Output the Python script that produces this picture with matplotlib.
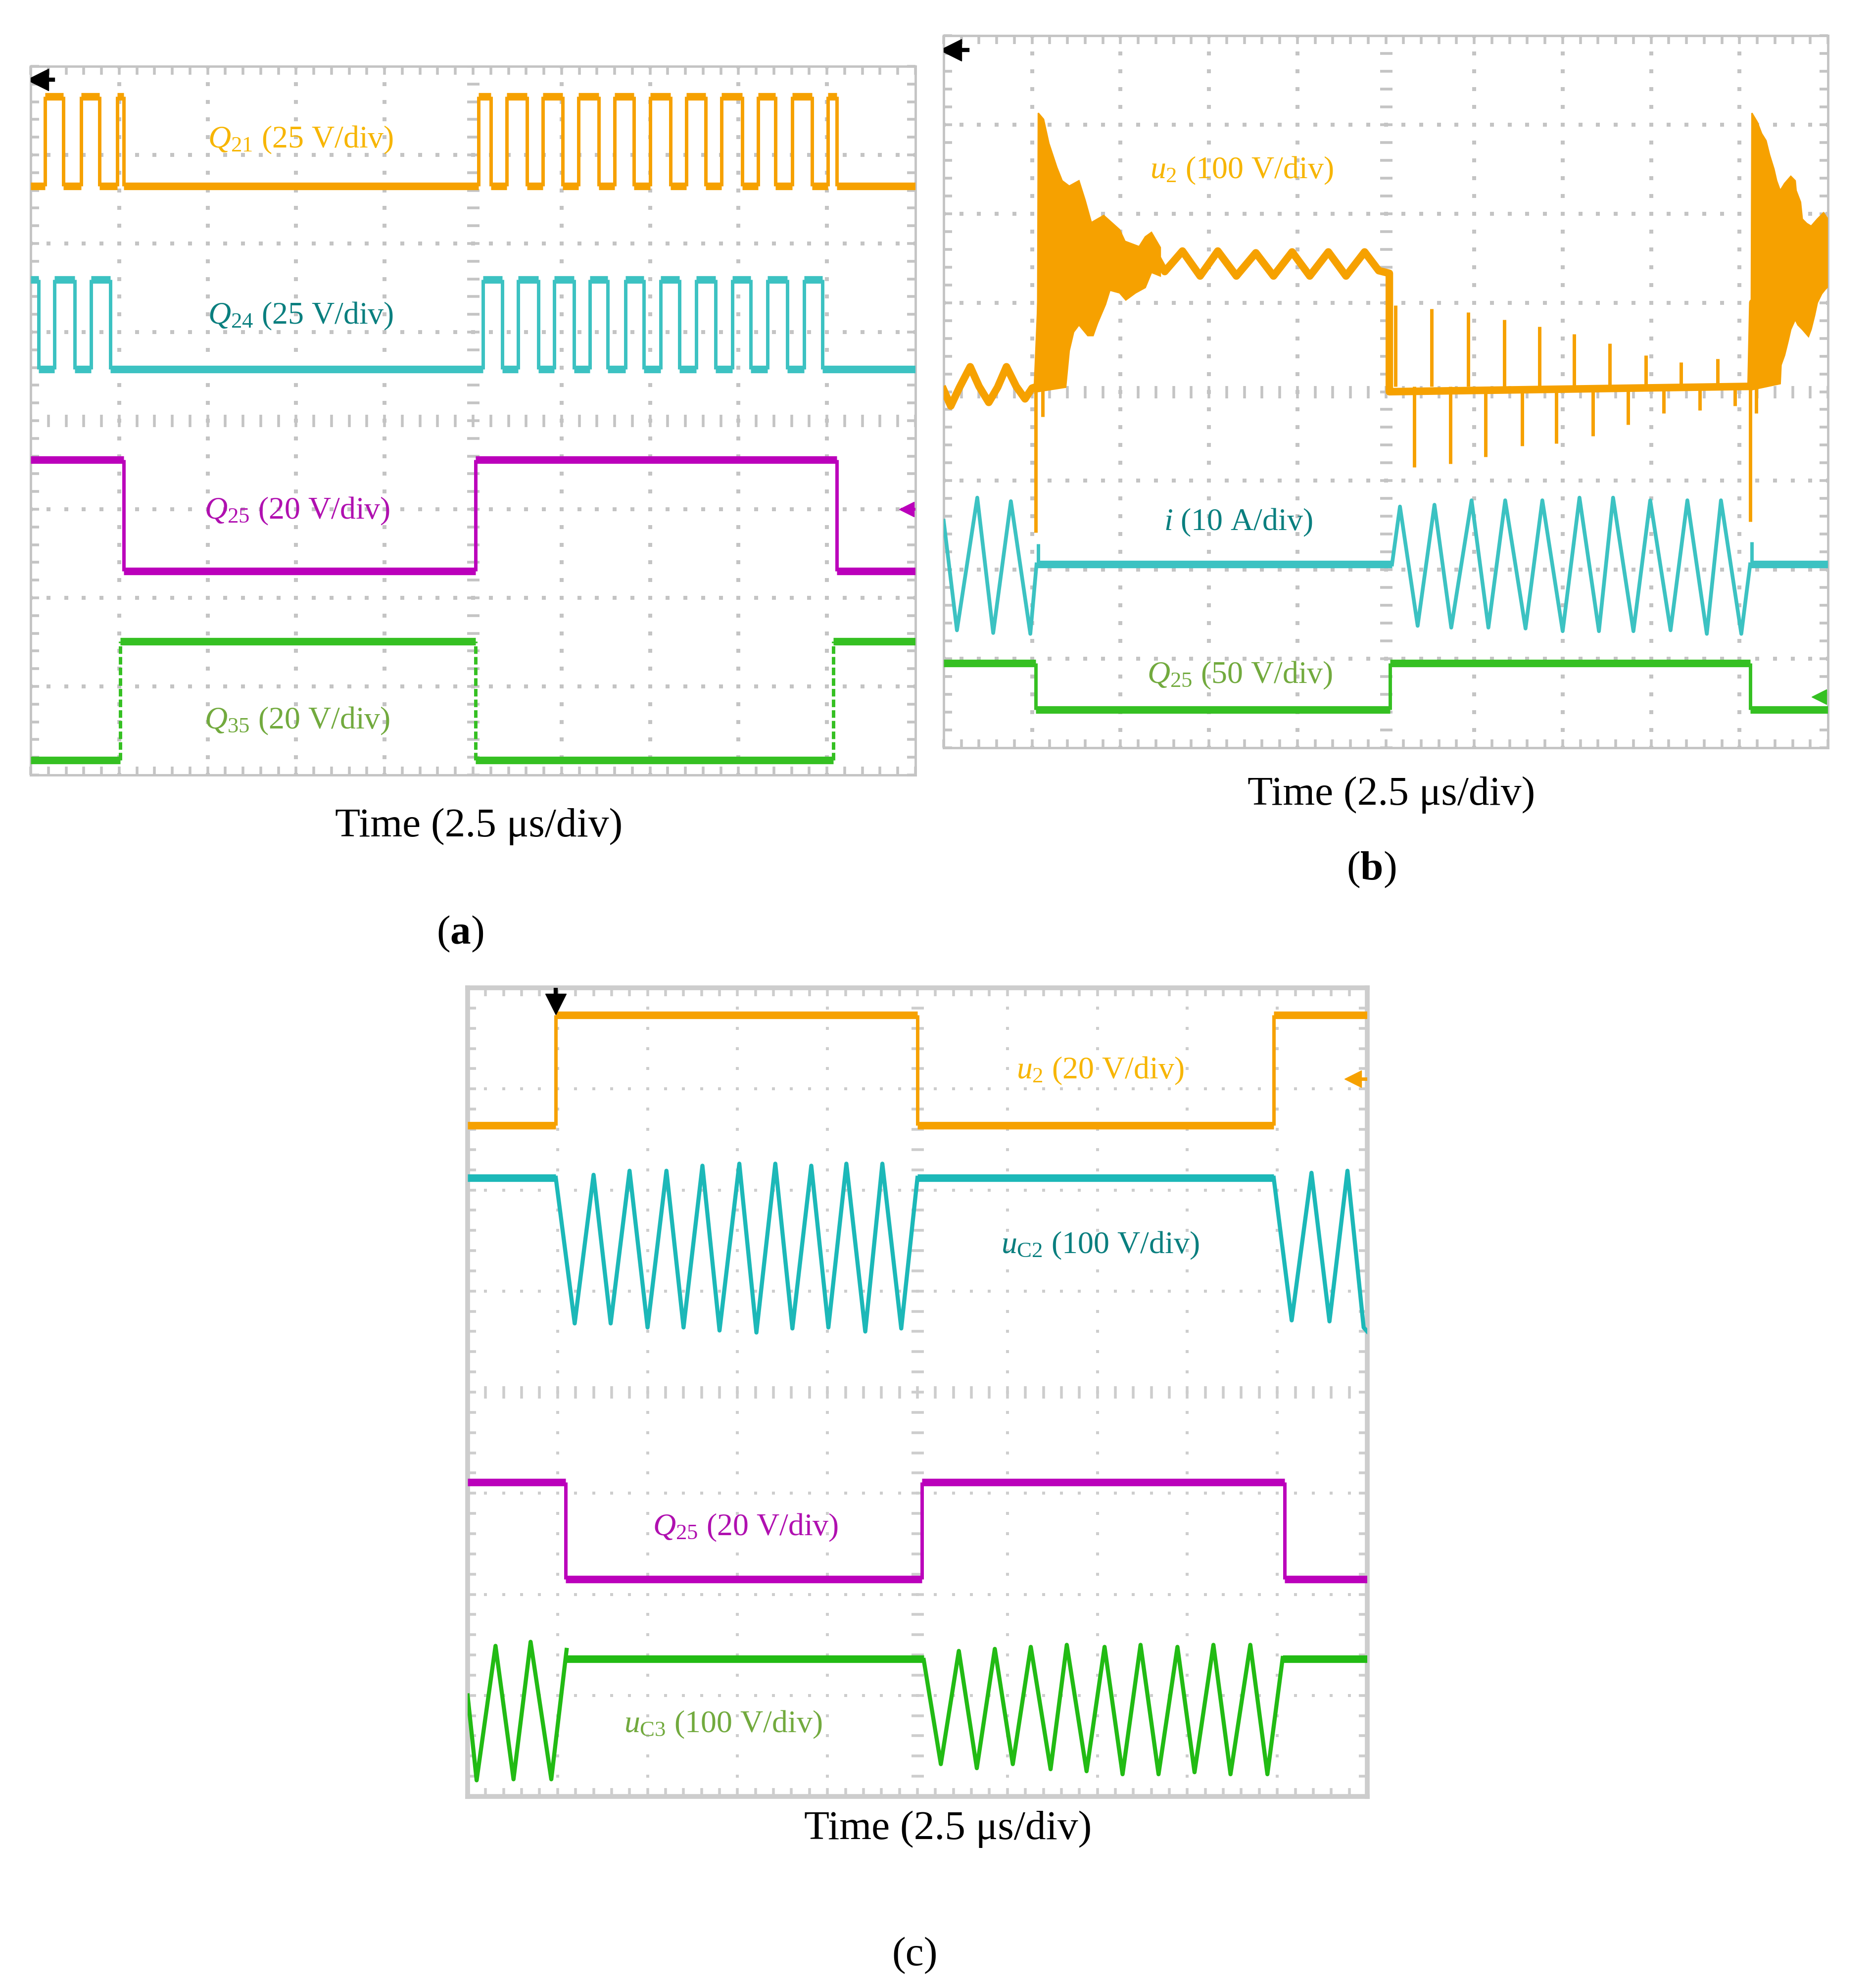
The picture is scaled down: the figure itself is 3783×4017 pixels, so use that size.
import numpy as np
import matplotlib
matplotlib.use('Agg')
import matplotlib.pyplot as plt

plt.rcParams['font.family'] = ['Liberation Serif', 'DejaVu Serif']
plt.rcParams['mathtext.fontset'] = 'custom'
plt.rcParams['mathtext.rm'] = 'Liberation Serif'
plt.rcParams['mathtext.it'] = 'Liberation Serif:italic'
plt.rcParams['mathtext.bf'] = 'Liberation Serif:bold'

# ---- data, in screen divisions (x 0..10, y 0..8) ----
# panel (a): gate signals, edge times and (low, high) levels
a_q21_edges = [0.16, 0.37, 0.57, 0.78, 0.98, 1.05, 5.06, 5.20, 5.38, 5.61, 5.79, 6.01,
               6.19, 6.42, 6.60, 6.82, 7.00, 7.23, 7.41, 7.63, 7.81, 8.04, 8.22, 8.42,
               8.61, 8.83, 9.01, 9.11]
a_q21_lvl = (6.65, 7.66)
a_q24_edges = [0.09, 0.27, 0.50, 0.68, 0.90, 5.11, 5.33, 5.51, 5.74, 5.92, 6.14, 6.32,
               6.52, 6.72, 6.93, 7.12, 7.33, 7.52, 7.74, 7.93, 8.14, 8.33, 8.55, 8.74, 8.95]
a_q24_lvl = (4.58, 5.59)
a_q25_edges = [1.05, 5.03, 9.11]
a_q25_lvl = (2.30, 3.56)
a_q35_edges = [1.01, 5.03, 9.07]
a_q35_lvl = (0.17, 1.51)

# panel (b): u2 centre line, two ringing bursts, spikes; i and Q25
b_u2_x = [0.00, 0.08, 0.18, 0.30, 0.40, 0.51, 0.61, 0.71, 0.82, 0.92, 1.00, 1.06, 1.10,
          2.21, 2.35, 2.50, 2.70, 2.90, 3.10, 3.31, 3.53, 3.73, 3.94, 4.14, 4.35, 4.55,
          4.76, 4.92, 5.04, 5.04, 9.13, 9.15, 10.0]
b_u2_y = [4.02, 3.84, 4.05, 4.28, 4.06, 3.88, 4.05, 4.28, 4.06, 3.92, 4.04, 4.06, 5.00,
          5.45, 5.62, 5.35, 5.58, 5.30, 5.58, 5.30, 5.56, 5.30, 5.57, 5.30, 5.57, 5.30,
          5.57, 5.36, 5.33, 4.00, 4.06, 5.00, 5.50]
b_burst1_hi_x = [1.06, 1.07, 1.13, 1.19, 1.28, 1.34, 1.42, 1.53, 1.60, 1.67, 1.81, 1.99,
                 2.05, 2.21, 2.28, 2.35, 2.45]
b_burst1_hi_y = [4.10, 7.13, 7.06, 6.79, 6.52, 6.37, 6.31, 6.37, 6.15, 5.90, 5.98, 5.82,
                 5.69, 5.63, 5.74, 5.79, 5.62]
b_burst1_lo_x = [1.06, 1.38, 1.42, 1.47, 1.53, 1.63, 1.69, 1.74, 1.83, 1.88, 1.99, 2.06,
                 2.17, 2.28, 2.35, 2.45]
b_burst1_lo_y = [4.00, 4.05, 4.46, 4.67, 4.75, 4.63, 4.63, 4.77, 4.98, 5.14, 5.11, 5.03,
                 5.11, 5.17, 5.34, 5.30]
b_burst2_hi_x = [9.13, 9.14, 9.20, 9.25, 9.30, 9.34, 9.39, 9.42, 9.46, 9.51, 9.58, 9.63,
                 9.64, 9.69, 9.71, 9.76, 9.81, 9.88, 9.95, 10.0]
b_burst2_hi_y = [4.10, 7.13, 7.03, 6.90, 6.82, 6.66, 6.50, 6.37, 6.26, 6.34, 6.42, 6.37,
                 6.26, 6.13, 5.94, 5.89, 5.86, 5.94, 6.01, 5.94]
b_burst2_lo_x = [9.13, 9.46, 9.47, 9.51, 9.55, 9.58, 9.63, 9.66, 9.71, 9.78, 9.81, 9.85,
                 9.88, 9.93, 9.97, 10.0]
b_burst2_lo_y = [4.02, 4.09, 4.30, 4.41, 4.57, 4.70, 4.81, 4.75, 4.70, 4.62, 4.70, 4.86,
                 5.00, 5.10, 5.15, 5.18]
b_u2_base = 4.06
b_up_spike_x = [5.11, 5.52, 5.93, 6.34, 6.74, 7.13, 7.53, 7.94, 8.34, 8.75]
b_up_spike_top = [4.97, 4.93, 4.89, 4.81, 4.73, 4.65, 4.54, 4.41, 4.33, 4.37]
b_dn_spike_x = [1.04, 1.12, 5.32, 5.73, 6.13, 6.54, 6.93, 7.34, 7.74, 8.14, 8.55, 8.95, 9.12, 9.19]
b_dn_spike_bot = [2.42, 3.72, 3.15, 3.19, 3.27, 3.39, 3.42, 3.50, 3.63, 3.76, 3.79, 3.84, 2.54, 3.76]

b_i_flat = [(1.05, 5.07), (9.12, 10.0)]
b_i_level = 2.06
b_i_osc1_x = [0.00, 0.15, 0.38, 0.56, 0.76, 0.98, 1.05]
b_i_osc1_y = [2.55, 1.32, 2.81, 1.29, 2.77, 1.28, 2.06]
b_i_osc2_x = [5.07, 5.16, 5.36, 5.55, 5.74, 5.97, 6.16, 6.35, 6.58, 6.77, 7.00, 7.19,
              7.41, 7.57, 7.80, 7.99, 8.22, 8.41, 8.63, 8.79, 9.02, 9.12]
b_i_osc2_y = [2.06, 2.71, 1.37, 2.73, 1.35, 2.78, 1.35, 2.78, 1.34, 2.78, 1.31, 2.81,
              1.31, 2.81, 1.31, 2.78, 1.32, 2.78, 1.28, 2.78, 1.28, 2.06]
b_i_spike_x = [1.07, 9.14]
b_i_spike_top = [2.29, 2.31]
b_q25_edges = [1.04, 5.05, 9.12]
b_q25_lvl = (0.43, 0.95)

# panel (c)
c_u2_edges = [0.98, 5.00, 8.96]
c_u2_lvl = (6.64, 7.73)
c_uc2_flat = [(0.0, 0.98), (5.00, 8.96)]
c_uc2_level = 6.12
c_uc2_osc1_x = [0.98, 1.19, 1.40, 1.59, 1.80, 2.00, 2.21, 2.40, 2.61, 2.80, 3.02, 3.21,
                3.42, 3.61, 3.82, 4.01, 4.21, 4.42, 4.61, 4.82, 5.00]
c_uc2_osc1_y = [6.12, 4.68, 6.15, 4.68, 6.19, 4.64, 6.19, 4.64, 6.24, 4.61, 6.26, 4.59,
                6.26, 4.63, 6.24, 4.64, 6.26, 4.60, 6.26, 4.63, 6.12]
c_uc2_osc2_x = [8.96, 9.16, 9.38, 9.58, 9.78, 9.96, 10.0]
c_uc2_osc2_y = [6.12, 4.71, 6.17, 4.70, 6.19, 4.64, 4.60]
c_q25_edges = [1.09, 5.05, 9.08]
c_q25_lvl = (2.15, 3.11)
c_uc3_flat = [(1.10, 5.07), (9.06, 10.0)]
c_uc3_level = 1.36
c_uc3_osc1_x = [0.00, 0.10, 0.31, 0.51, 0.70, 0.93, 1.10]
c_uc3_osc1_y = [1.00, 0.16, 1.49, 0.17, 1.53, 0.17, 1.45]
c_uc3_osc2_x = [5.07, 5.26, 5.46, 5.66, 5.86, 6.06, 6.26, 6.48, 6.66, 6.88, 7.08, 7.28,
                7.48, 7.68, 7.89, 8.08, 8.29, 8.48, 8.70, 8.89, 9.06]
c_uc3_osc2_y = [1.35, 0.32, 1.44, 0.28, 1.46, 0.32, 1.48, 0.27, 1.50, 0.25, 1.48, 0.22,
                1.50, 0.22, 1.48, 0.24, 1.50, 0.22, 1.50, 0.22, 1.37]

# ---- colours ----
ORANGE, ORANGE_TXT = '#f6a100', '#f7b500'
CYAN, CYAN_TXT = '#3cc2c2', '#0a7f7f'
MAGENTA, MAGENTA_TXT = '#bb00bb', '#b010b0'
GREEN, GREEN_TXT = '#35c022', '#72aa3e'
GRID = '#c4c4c4'

FLAT = 11    # plateau line width (noisy band)
EDGE = 5     # transitions / oscillation line width

W, H = 3783, 4017
fig = plt.figure(figsize=(W / 100, H / 100), dpi=100)


def panel(x0, y0, x1, y1):
    return fig.add_axes([x0 / W, 1 - y1 / H, (x1 - x0) / W, (y1 - y0) / H])


def scope_grid(ax, color=GRID, dot=5.5, border=3.5):
    ax.set_xlim(0, 10)
    ax.set_ylim(0, 8)
    for sp in ax.spines.values():
        sp.set_color(color)
        sp.set_linewidth(border)
    xs = np.arange(0, 10.001, 0.2)
    ys = np.arange(0, 8.001, 0.2)
    ax.set_xticks(xs)
    ax.set_yticks(ys)
    ax.tick_params(which='both', direction='in', length=12, width=4, color=color,
                   top=True, right=True, labelbottom=False, labelleft=False)
    for gx in [1, 2, 3, 4, 6, 7, 8, 9]:
        ax.plot(np.full(len(ys), gx), ys, 's', ms=dot, color=color, mew=0, zorder=1)
    for gy in [1, 2, 3, 5, 6, 7]:
        ax.plot(xs, np.full(len(xs), gy), 's', ms=dot, color=color, mew=0, zorder=1)
    ax.plot(xs, np.full(len(xs), 4), '|', ms=18, mew=4, color=color, zorder=1)
    ax.plot(np.full(len(ys), 5), ys, '_', ms=18, mew=4, color=color, zorder=1)


def square(ax, edges, lvl, start_high, color, lw_flat=FLAT, lw_edge=EDGE, edge_ls='-'):
    lo, hi = lvl
    xs = [0] + list(edges) + [10]
    level = hi if start_high else lo
    for xa, xb in zip(xs[:-1], xs[1:]):
        ax.plot([xa, xb], [level, level], color=color, lw=lw_flat,
                solid_capstyle='butt', zorder=3)
        level = lo if level == hi else hi
    ax.vlines(edges, lo, hi, colors=color, lw=lw_edge, linestyles=edge_ls, zorder=3)


def flats(ax, spans, level, color):
    for xa, xb in spans:
        ax.plot([xa, xb], [level, level], color=color, lw=FLAT, solid_capstyle='butt', zorder=3)


def label(ax, x, y, s, color, size=46):
    ax.text(x, y, s, color=color, fontsize=size, ha='center', va='center', zorder=6)


# ---------------- panel (a) ----------------
axa = panel(62, 134, 1850, 1566)
scope_grid(axa)
square(axa, a_q21_edges, a_q21_lvl, False, ORANGE)
square(axa, a_q24_edges, a_q24_lvl, True, CYAN)
square(axa, a_q25_edges, a_q25_lvl, True, MAGENTA)
square(axa, a_q35_edges, a_q35_lvl, False, GREEN, edge_ls=(0, (2.2, 0.9)))
axa.plot([0.05, 0.25], [7.85, 7.85], color='k', lw=6, zorder=5)
axa.plot(0.08, 7.85, marker='<', ms=32, color='k', zorder=5)
axa.plot([9.85, 10.0], [3.0, 3.0], color=MAGENTA, lw=4, zorder=5)
axa.plot(9.9, 3.0, marker='<', ms=22, color=MAGENTA, zorder=5)
label(axa, 3.05, 7.17, r'$Q_{21}$ (25 V/div)', ORANGE_TXT)
label(axa, 3.05, 5.18, r'$Q_{24}$ (25 V/div)', CYAN_TXT)
label(axa, 3.01, 2.98, r'$Q_{25}$ (20 V/div)', MAGENTA_TXT)
label(axa, 3.01, 0.61, r'$Q_{35}$ (20 V/div)', GREEN_TXT)

# ---------------- panel (b) ----------------
axb = panel(1907, 72, 3694, 1511)
scope_grid(axb)
axb.plot(b_u2_x, b_u2_y, color=ORANGE, lw=FLAT, zorder=3)
for hx, hy, lx, ly in [(b_burst1_hi_x, b_burst1_hi_y, b_burst1_lo_x, b_burst1_lo_y),
                       (b_burst2_hi_x, b_burst2_hi_y, b_burst2_lo_x, b_burst2_lo_y)]:
    axb.fill(hx + lx[::-1], hy + ly[::-1], color=ORANGE, lw=2, zorder=3)
axb.vlines(b_up_spike_x, b_u2_base, b_up_spike_top, colors=ORANGE, lw=EDGE, zorder=3)
axb.vlines(b_dn_spike_x, b_dn_spike_bot, b_u2_base, colors=ORANGE, lw=EDGE, zorder=3)
flats(axb, b_i_flat, b_i_level, CYAN)
axb.plot(b_i_osc1_x, b_i_osc1_y, color=CYAN, lw=EDGE + 0.5, zorder=3)
axb.plot(b_i_osc2_x, b_i_osc2_y, color=CYAN, lw=EDGE + 0.5, zorder=3)
axb.vlines(b_i_spike_x, b_i_level, b_i_spike_top, colors=CYAN, lw=EDGE, zorder=3)
square(axb, b_q25_edges, b_q25_lvl, True, GREEN)
axb.plot([0.05, 0.27], [7.84, 7.84], color='k', lw=6, zorder=5)
axb.plot(0.08, 7.84, marker='<', ms=32, color='k', zorder=5)
axb.plot(9.9, 0.57, marker='<', ms=22, color=GREEN, zorder=5)
label(axb, 3.37, 6.48, r'$u_2$ (100 V/div)', ORANGE_TXT)
label(axb, 3.33, 2.53, r'$i$ (10 A/div)', CYAN_TXT)
label(axb, 3.35, 0.81, r'$Q_{25}$ (50 V/div)', GREEN_TXT)

# ---------------- panel (c) ----------------
axc = panel(945, 1996, 2763, 3630)
scope_grid(axc, color='#cdcdcd', dot=5, border=7)
CYAN_C, GREEN_C = '#1cb8b8', '#22bb14'
square(axc, c_u2_edges, c_u2_lvl, False, ORANGE)
flats(axc, c_uc2_flat, c_uc2_level, CYAN_C)
axc.plot(c_uc2_osc1_x, c_uc2_osc1_y, color=CYAN_C, lw=EDGE + 1, zorder=3)
axc.plot(c_uc2_osc2_x, c_uc2_osc2_y, color=CYAN_C, lw=EDGE + 1, zorder=3)
square(axc, c_q25_edges, c_q25_lvl, True, MAGENTA)
flats(axc, c_uc3_flat, c_uc3_level, GREEN_C)
axc.plot(c_uc3_osc1_x, c_uc3_osc1_y, color=GREEN_C, lw=EDGE + 1, zorder=3)
axc.plot(c_uc3_osc2_x, c_uc3_osc2_y, color=GREEN_C, lw=EDGE + 1, zorder=3)
axc.plot([0.98, 0.98], [7.8, 8.0], color='k', lw=6, zorder=5)
axc.plot(0.98, 7.84, marker='v', ms=30, color='k', zorder=5)
axc.plot([9.8, 10.0], [7.10, 7.10], color=ORANGE, lw=5, zorder=5)
axc.plot(9.84, 7.10, marker='<', ms=24, color=ORANGE, zorder=5)
label(axc, 7.03, 7.18, r'$u_2$ (20 V/div)', ORANGE_TXT)
label(axc, 7.03, 5.45, r'$u_{\mathrm{C2}}$ (100 V/div)', CYAN_TXT)
label(axc, 3.09, 2.66, r'$Q_{25}$ (20 V/div)', MAGENTA_TXT)
label(axc, 2.84, 0.71, r'$u_{\mathrm{C3}}$ (100 V/div)', GREEN_TXT)

# ---------------- captions ----------------
cap = dict(fontsize=60, ha='center', va='center', color='black')
fig.text(968 / W, 1 - 1670 / H, 'Time (2.5 μs/div)', **cap)
fig.text(930 / W, 1 - 1887 / H, r'($\mathbf{a}$)', **cap)
fig.text(2812 / W, 1 - 1606 / H, 'Time (2.5 μs/div)', **cap)
fig.text(2771 / W, 1 - 1757 / H, r'($\mathbf{b}$)', **cap)
fig.text(1916 / W, 1 - 3696 / H, 'Time (2.5 μs/div)', **cap)
fig.text(1849 / W, 1 - 3952 / H, '(c)', **cap)

fig.savefig('out.png', dpi=100, facecolor='white')
